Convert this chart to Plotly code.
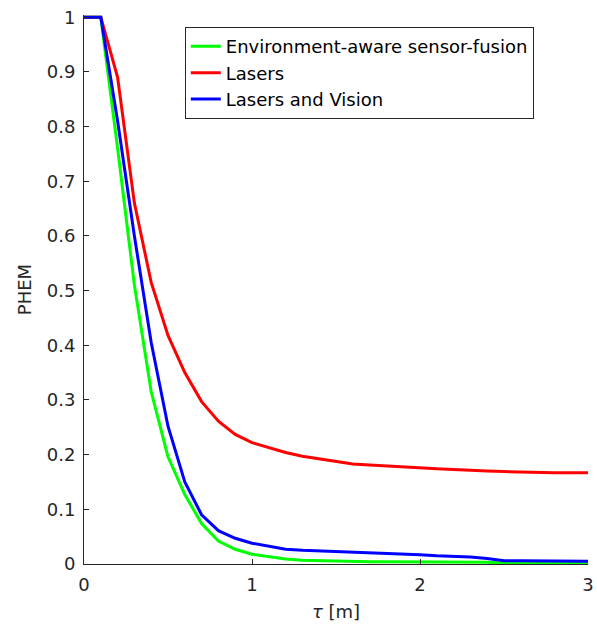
import plotly.graph_objects as go

tau = [0.0, 0.1, 0.2, 0.3, 0.4, 0.5, 0.6, 0.7, 0.8, 0.9, 1.0,
       1.1, 1.2, 1.3, 1.4, 1.5, 1.6, 1.7, 1.8, 1.9, 2.0,
       2.1, 2.2, 2.3, 2.4, 2.5, 2.6, 2.7, 2.8, 2.9, 3.0]

env_fusion = [1, 1, 0.76, 0.51, 0.315, 0.196, 0.127, 0.074, 0.042, 0.027, 0.018,
              0.013, 0.009, 0.007, 0.006, 0.005, 0.005, 0.004, 0.004, 0.004, 0.004,
              0.003, 0.003, 0.003, 0.003, 0.002, 0.002, 0.002, 0.002, 0.002, 0.002]

lasers = [1, 1, 0.89, 0.66, 0.515, 0.418, 0.35, 0.297, 0.261, 0.237, 0.222,
          0.213, 0.204, 0.197, 0.192, 0.187, 0.183, 0.181, 0.179, 0.177, 0.175,
          0.174, 0.173, 0.171, 0.170, 0.169, 0.168, 0.168, 0.167, 0.167, 0.167]

lasers_vision = [1, 1, 0.81, 0.60, 0.405, 0.252, 0.15, 0.09, 0.061, 0.047, 0.038,
                 0.032, 0.027, 0.025, 0.024, 0.023, 0.022, 0.021, 0.020, 0.019, 0.017,
                 0.015, 0.014, 0.013, 0.010, 0.006, 0.006, 0.0055, 0.005, 0.005, 0.005]

series_names = ["Environment-aware sensor-fusion", "Lasers", "Lasers and Vision"]
series_colors = ["#00ff00", "#ff0000", "#0000ff"]

y_ticks = [0, 0.1, 0.2, 0.3, 0.4, 0.5, 0.6, 0.7, 0.8, 0.9, 1]
y_ticktext = ["0", "0.1", "0.2", "0.3", "0.4", "0.5", "0.6", "0.7", "0.8", "0.9", "1"]
x_ticks = [0, 1, 2, 3]

fig = go.Figure()
for name, ys, col in zip(series_names, [env_fusion, lasers, lasers_vision], series_colors):
    fig.add_trace(go.Scatter(x=tau, y=ys, mode="lines", name=name,
                             line=dict(color=col, width=3)))

axis_col = "#262626"
font_family = "DejaVu Sans, sans-serif"

fig.update_layout(
    width=597, height=628,
    margin=dict(l=84, r=9, t=15, b=64, autoexpand=False),
    paper_bgcolor="white", plot_bgcolor="white",
    font=dict(family=font_family, size=18, color=axis_col),
    showlegend=True,
    legend=dict(x=0.2, y=0.978, xanchor="left", yanchor="top",
                bgcolor="white", bordercolor=axis_col, borderwidth=1,
                font=dict(size=18, color="black"), tracegroupgap=0,
                itemwidth=30),
    xaxis=dict(range=[0, 3], tickvals=x_ticks, ticks="inside", ticklen=5,
               tickcolor=axis_col, showline=True, linecolor=axis_col, linewidth=1,
               showgrid=False, zeroline=False, tickfont=dict(size=18),
               ticklabelstandoff=4, automargin=False,
               title=dict(text="<i>τ</i> [m]", font=dict(size=18), standoff=11)),
    yaxis=dict(range=[0, 1.004], tickvals=y_ticks, ticktext=y_ticktext,
               ticks="inside", ticklen=5, ticklabelstandoff=4, automargin=False,
               tickcolor=axis_col, showline=True, linecolor=axis_col, linewidth=1,
               showgrid=False, zeroline=False, tickfont=dict(size=18),
               title=dict(text="PHEM", font=dict(size=18), standoff=10)),
)

fig.write_html("out.html", config={"displayModeBar": False},
               post_script="document.body.style.margin='0';document.body.style.overflow='hidden';")
